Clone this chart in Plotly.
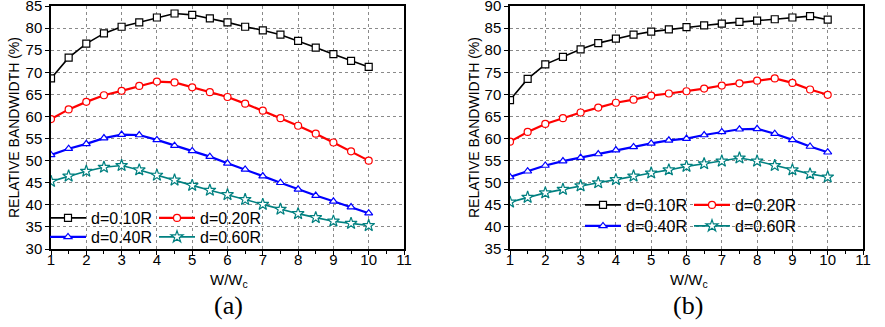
import plotly.graph_objects as go

xs = [1, 1.5, 2, 2.5, 3, 3.5, 4, 4.5, 5, 5.5, 6, 6.5, 7, 7.5, 8, 8.5, 9, 9.5, 10]
names = ["d=0.10R", "d=0.20R", "d=0.40R", "d=0.60R"]

a_010 = [68.6, 73.3, 76.5, 78.8, 80.3, 81.3, 82.4, 83.3, 83.0, 82.2, 81.3, 80.3, 79.5, 78.5, 77.1, 75.6, 74.1, 72.6, 71.2]
a_020 = [59.4, 61.6, 63.3, 64.8, 65.8, 66.9, 67.9, 67.7, 66.6, 65.5, 64.4, 62.9, 61.3, 59.6, 57.9, 56.1, 54.1, 52.1, 50.0]
a_040 = [51.3, 52.7, 53.8, 55.1, 55.9, 55.8, 54.7, 53.4, 52.2, 50.9, 49.4, 48.0, 46.5, 45.0, 43.5, 42.1, 40.8, 39.5, 38.1]
a_060 = [45.3, 46.5, 47.6, 48.5, 48.9, 47.9, 46.7, 45.6, 44.4, 43.3, 42.3, 41.2, 40.1, 39.0, 38.0, 37.1, 36.3, 35.8, 35.3]

b_010 = [68.7, 73.5, 76.8, 78.5, 80.2, 81.6, 82.6, 83.5, 84.2, 84.7, 85.2, 85.6, 86.0, 86.4, 86.7, 87.0, 87.4, 87.7, 86.9]
b_020 = [59.3, 61.5, 63.3, 64.6, 65.9, 67.0, 68.1, 68.8, 69.7, 70.2, 70.7, 71.3, 72.0, 72.5, 73.1, 73.6, 72.6, 71.1, 69.9]
b_040 = [51.3, 52.6, 53.9, 54.9, 55.7, 56.5, 57.4, 58.1, 58.9, 59.6, 60.0, 60.8, 61.5, 62.1, 62.2, 61.1, 59.7, 58.2, 56.9]
b_060 = [45.6, 46.7, 47.7, 48.5, 49.3, 50.0, 50.7, 51.5, 52.2, 52.9, 53.7, 54.3, 54.9, 55.6, 54.9, 53.9, 52.9, 52.0, 51.3]

x_ticks = [1, 2, 3, 4, 5, 6, 7, 8, 9, 10, 11]
a_yrange = [30, 85]
b_yrange = [35, 90]

colors = ["#000000", "#ff0000", "#0000ff", "#008080"]
symbols = ["square", "circle", "triangle-up", "star"]
widths = [1.6, 2.2, 2.2, 1.6]

W, H = 885, 327
FONT = "Arial, Liberation Sans, sans-serif"

fig = go.Figure()

panels = [
    ([a_010, a_020, a_040, a_060], "x", "y", ["legend", "legend2"]),
    ([b_010, b_020, b_040, b_060], "x2", "y2", ["legend3", "legend4"]),
]
for series, xa, ya, lgs in panels:
    for i, ys in enumerate(series):
        fig.add_trace(go.Scatter(
            x=xs, y=ys, mode="lines+markers", name=names[i],
            xaxis=xa, yaxis=ya,
            legend=lgs[0] if i < 2 else lgs[1],
            line=dict(color=colors[i], width=widths[i]),
            marker=dict(symbol=symbols[i], size=7 if i != 3 else 9, color="white",
                        line=dict(color=colors[i], width=1.2)),
        ))

yd = [1 - 249 / H, 1 - 6 / H]
xdA = [51 / W, 404 / W]
xdB = [510 / W, 863 / W]

def xax(domain, anchor):
    return dict(domain=domain, anchor=anchor, range=[1, 11], tickvals=x_ticks,
                showline=True, linecolor="black", linewidth=1.5, mirror=True,
                ticks="outside", ticklen=4, tickwidth=1.2, tickcolor="black",
                minor=dict(ticks="outside", dtick=0.5, ticklen=3, tickcolor="black", showgrid=False),
                showgrid=True, gridcolor="#8a8a8a", griddash="dot", gridwidth=1,
                zeroline=False, ticklabeloverflow="allow", ticklabelstandoff=-8,
                tickfont=dict(family=FONT, size=15, color="black"))

def yax(domain, anchor, rng):
    return dict(domain=domain, anchor=anchor, range=rng, dtick=5,
                showline=True, linecolor="black", linewidth=1.5, mirror=True,
                ticks="outside", ticklen=4, tickwidth=1.2, tickcolor="black",
                showgrid=True, gridcolor="#8a8a8a", griddash="dot", gridwidth=1,
                zeroline=False, ticklabeloverflow="allow",
                tickfont=dict(family=FONT, size=15, color="black"))

def xtop(over, anchor):
    return dict(overlaying=over, anchor=anchor, side="top", range=[1, 11], dtick=1,
                showline=False, showgrid=False, zeroline=False, showticklabels=False,
                ticks="inside", ticklen=4, tickwidth=1.2, tickcolor="black",
                minor=dict(ticks="inside", dtick=0.5, ticklen=3, tickcolor="black", showgrid=False))

def yright(over, anchor, rng):
    return dict(overlaying=over, anchor=anchor, side="right", range=rng, dtick=5,
                showline=False, showgrid=False, zeroline=False, showticklabels=False,
                ticks="inside", ticklen=4, tickwidth=1.2, tickcolor="black",
                minor=dict(ticks="inside", dtick=2.5, ticklen=3, tickcolor="black", showgrid=False))

leg_common = dict(orientation="h", bgcolor="rgba(0,0,0,0)", borderwidth=0,
                  font=dict(family=FONT, size=16, color="black"),
                  xanchor="left", yanchor="middle", entrywidthmode="pixels",
                  entrywidth=58, itemwidth=36, tracegroupgap=0)

fig.update_layout(
    width=W, height=H, margin=dict(l=0, r=0, t=0, b=0, autoexpand=False),
    paper_bgcolor="white", plot_bgcolor="white",
    xaxis=xax(xdA, "y"), yaxis=yax(yd, "x", a_yrange),
    xaxis2=xax(xdB, "y2"), yaxis2=yax(yd, "x2", b_yrange),
    xaxis3=xtop("x", "y"), yaxis3=yright("y", "x", a_yrange),
    xaxis4=xtop("x2", "y2"), yaxis4=yright("y2", "x2", b_yrange),
    legend=dict(leg_common, x=45 / W, y=1 - 218 / H),
    legend2=dict(leg_common, x=45 / W, y=1 - 237 / H),
    legend3=dict(leg_common, x=580 / W, y=1 - 205 / H),
    legend4=dict(leg_common, x=580 / W, y=1 - 226 / H),
    showlegend=True,
)

ann = []
for cx, lab in [(228, "(a)"), (688, "(b)")]:
    ann.append(dict(x=cx / W, y=1 - 305 / H, xref="paper", yref="paper", text=lab,
                    xanchor="center", yanchor="middle",
                    showarrow=False, font=dict(family="Times New Roman, Liberation Serif, serif", size=26, color="black")))
    ann.append(dict(x=(cx + 1) / W, y=1 - 280 / H, xref="paper", yref="paper",
                    text="W/W<sub>c</sub>", showarrow=False, xanchor="center", yanchor="middle",
                    font=dict(family=FONT, size=15, color="black")))
for cx in [14, 474]:
    ann.append(dict(x=cx / W, y=1 - 128 / H, xref="paper", yref="paper",
                    text="RELATIVE BANDWIDTH (%)", textangle=-90, showarrow=False,
                    xanchor="center", yanchor="middle",
                    font=dict(family=FONT, size=14, color="black")))
fig.update_layout(annotations=ann)

fig.write_html("out.html", config={"displayModeBar": False},
               post_script="document.body.style.margin='0';")
